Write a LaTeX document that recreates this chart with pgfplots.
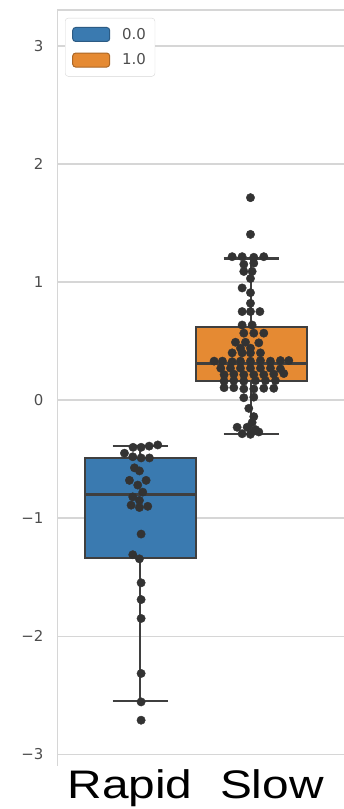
\documentclass[border=0pt]{standalone}
\usepackage{pgfplots}
\pgfplotsset{compat=1.18}
\usepgfplotslibrary{statistics}
\usepackage{fontspec}
\setmainfont{DejaVu Sans}
\newfontfamily\labelfont[FakeStretch=1.2]{Liberation Sans}
\definecolor{sbblue}{HTML}{3A7AB0}
\definecolor{sborange}{HTML}{E58A33}
\definecolor{boxedge}{HTML}{3F3F3F}
\definecolor{gridgray}{HTML}{D6D6D6}
\definecolor{ticktext}{HTML}{4D4D4D}
\definecolor{dotcol}{HTML}{333333}
\begin{document}
\begin{tikzpicture}
\begin{axis}[
  at={(57bp,43bp)}, anchor=south west,
  scale only axis, width=287bp, height=756bp,
  xmin=-0.5, xmax=0.534, ymin=-3.1, ymax=3.305,
  axis line style={draw=none},
  boxplot/draw direction=y,
  boxplot/every box/.style={draw=boxedge, line width=1.6bp},
  boxplot/every whisker/.style={draw=boxedge, line width=2.2bp},
  boxplot/every median/.style={draw=boxedge, line width=2.2bp},
  ymajorgrids, major grid style={gridgray, line width=1.3bp},
  ytick={-3,-2,-1,0,1,2,3},
  yticklabels={−3,−2,−1,0,1,2,3},
  yticklabel style={font=\fontsize{15}{18}\selectfont, text=ticktext, xshift=-10bp},
  xtick={-0.237,0.274},
  xticklabels={Rapid,Slow},
  xticklabel style={font=\labelfont\fontsize{40}{44}\selectfont, anchor=base, yshift=-32bp, text=black},
  major tick length=0pt,
  legend style={at={(0,1)}, anchor=north west, xshift=8bp, yshift=-8bp,
    draw=gridgray, rounded corners=3bp, fill=white,
    font=\fontsize{15}{18}\selectfont, text=ticktext,
    inner xsep=7bp, inner ysep=8bp, row sep=9bp,
    /tikz/every odd column/.append style={column sep=10bp}},
  legend cell align=left,
]
\addlegendimage{legend image code/.code={\draw[fill=sbblue, draw=sbblue!75!black, line width=1bp] (0bp,-7bp) rectangle (37bp,7bp);}}
\addlegendentry{0.0}
\addlegendimage{legend image code/.code={\draw[fill=sborange, draw=sborange!75!black, line width=1bp] (0bp,-7bp) rectangle (37bp,7bp);}}
\addlegendentry{1.0}

\addplot[forget plot, boxplot prepared={draw position=-0.2, lower whisker=-2.55, lower quartile=-1.339, median=-0.80, upper quartile=-0.49, upper whisker=-0.39, box extend=0.4, whisker extend=0.2}, fill=sbblue, draw=boxedge, solid] coordinates {};
\addplot[forget plot, boxplot prepared={draw position=0.2, lower whisker=-0.29, lower quartile=0.16, median=0.31, upper quartile=0.62, upper whisker=1.20, box extend=0.4, whisker extend=0.2}, fill=sborange, draw=boxedge, solid] coordinates {};

% Rapid swarm
\addplot[forget plot, only marks, mark=*, mark size=4.2bp, mark options={fill=dotcol, draw=dotcol}] coordinates {
(-0.226,-0.40) (-0.197,-0.40) (-0.168,-0.39) (-0.137,-0.38)
(-0.257,-0.45) (-0.227,-0.48) (-0.197,-0.49) (-0.167,-0.49)
(-0.221,-0.574) (-0.203,-0.60)
(-0.239,-0.68) (-0.179,-0.68)
(-0.209,-0.72) (-0.191,-0.78) (-0.227,-0.82) (-0.203,-0.85)
(-0.233,-0.89) (-0.203,-0.91) (-0.173,-0.90)
(-0.197,-1.135)
(-0.227,-1.31) (-0.203,-1.345)
(-0.197,-1.548) (-0.197,-1.69) (-0.197,-1.85) (-0.197,-2.316) (-0.197,-2.557) (-0.197,-2.712)
};
% Slow swarm
\addplot[forget plot, only marks, mark=*, mark size=4.2bp, mark options={fill=dotcol, draw=dotcol}] coordinates {
(0.197,1.715) (0.197,1.404)
(0.131,1.215) (0.167,1.215) (0.209,1.21) (0.245,1.215)
(0.173,1.15) (0.209,1.16)
(0.173,1.09) (0.203,1.09)
(0.197,1.03)
(0.167,0.95) (0.197,0.91)
(0.197,0.82)
(0.167,0.75) (0.197,0.75) (0.231,0.75)
(0.167,0.636) (0.203,0.636)
(0.173,0.567) (0.209,0.567) (0.245,0.567)
(0.143,0.49) (0.179,0.49) (0.227,0.485)
(0.161,0.44) (0.197,0.44)
(0.131,0.40) (0.167,0.40) (0.197,0.40) (0.233,0.40)
(0.066,0.33) (0.096,0.33) (0.131,0.325) (0.161,0.33) (0.197,0.33) (0.233,0.335) (0.269,0.33) (0.305,0.335) (0.335,0.335)
(0.090,0.27) (0.125,0.27) (0.161,0.27) (0.197,0.27) (0.233,0.27) (0.269,0.27) (0.305,0.265)
(0.102,0.215) (0.137,0.22) (0.173,0.215) (0.209,0.215) (0.245,0.215) (0.281,0.22) (0.317,0.225)
(0.102,0.16) (0.137,0.165) (0.173,0.16) (0.215,0.165) (0.251,0.165) (0.287,0.165)
(0.102,0.105) (0.137,0.105) (0.173,0.095) (0.209,0.095) (0.245,0.10) (0.281,0.10)
(0.173,0.02) (0.209,0.025)
(0.191,-0.07) (0.209,-0.14) (0.203,-0.19)
(0.149,-0.23) (0.185,-0.23) (0.215,-0.25)
(0.167,-0.285) (0.197,-0.29) (0.227,-0.27)
};
\draw[gridgray, line width=1.3bp] (rel axis cs:0,0) -- (rel axis cs:0,1) -- (rel axis cs:1,1);
\end{axis}
\pgfresetboundingbox
\useasboundingbox (0,0) rectangle (344bp,809bp);
\end{tikzpicture}
\end{document}
